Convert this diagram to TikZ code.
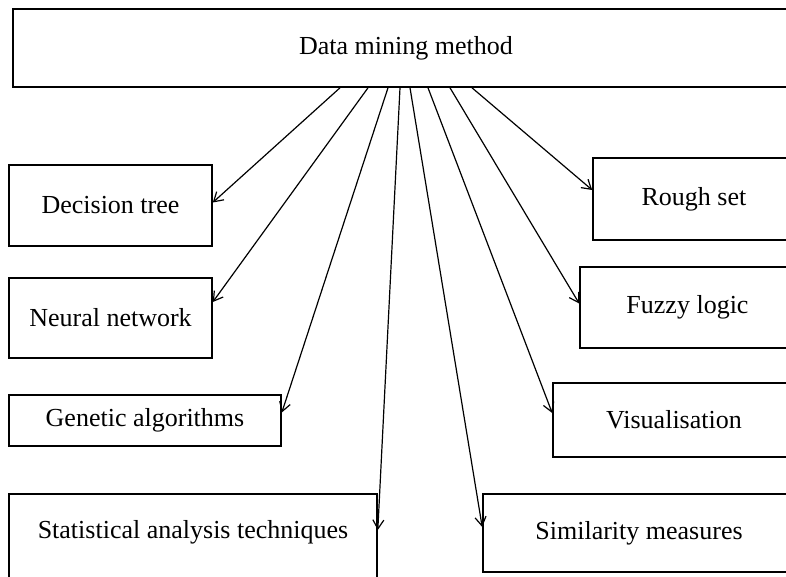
\documentclass[tikz,border=0pt]{standalone}
\usepackage{fontspec}
\setmainfont{Liberation Serif}
\usetikzlibrary{arrows.meta}

\begin{document}
\begin{tikzpicture}[x=1pt,y=-1pt]

    % Styles
    \tikzstyle{method} = [rectangle, draw=black, line width=1.6pt, inner sep=0pt, text centered, font=\fontsize{26}{30}\selectfont]
    \tikzstyle{arrow} = [line width=1.2pt, -{Straight Barb[length=9pt,width=11pt]}]

    \useasboundingbox (0,0) rectangle (786,576);
    \clip (0,0) rectangle (786,576);

    % Noeuds
    \node (dmm) [method, minimum width=786pt, minimum height=78pt] at (406,48) {Data mining method};
    \node (tree) [method, minimum width=203pt, minimum height=81pt] at (110.5,205.5) {Decision tree};
    \node (neural) [method, minimum width=203pt, minimum height=80pt] at (110.5,318) {Neural network};
    \node (genetic) [method, minimum width=272pt, minimum height=51pt] at (145,420.5) {Genetic algorithms};
    \node (stat) [method, minimum width=368pt, minimum height=96pt, text depth=26pt] at (193,542) {Statistical analysis techniques};
    \node (simil) [method, minimum width=312pt, minimum height=78pt] at (639,533) {Similarity measures};
    \node (visu) [method, minimum width=242pt, minimum height=74pt] at (674,420) {Visualisation};
    \node (fuzzy) [method, minimum width=215pt, minimum height=81pt] at (687.5,307.5) {Fuzzy logic};
    \node (rough) [method, minimum width=202pt, minimum height=82pt] at (694,199) {Rough set};

    % Fleches
    \draw [arrow] ([xshift=-66pt]dmm.south) -- ([yshift=3pt]tree.east);
    \draw [arrow] ([xshift=-38pt]dmm.south) -- ([yshift=16pt]neural.east);
    \draw [arrow] ([xshift=-18pt]dmm.south) -- ([yshift=8pt]genetic.east);
    \draw [arrow] ([xshift=-6pt]dmm.south) -- ([yshift=12pt]stat.east);
    \draw [arrow] ([xshift=4pt]dmm.south) -- ([yshift=6pt]simil.west);
    \draw [arrow] ([xshift=22pt]dmm.south) -- ([yshift=7pt]visu.west);
    \draw [arrow] ([xshift=44pt]dmm.south) -- ([yshift=4pt]fuzzy.west);
    \draw [arrow] ([xshift=66pt]dmm.south) -- ([yshift=9pt]rough.west);

\end{tikzpicture}
\end{document}
